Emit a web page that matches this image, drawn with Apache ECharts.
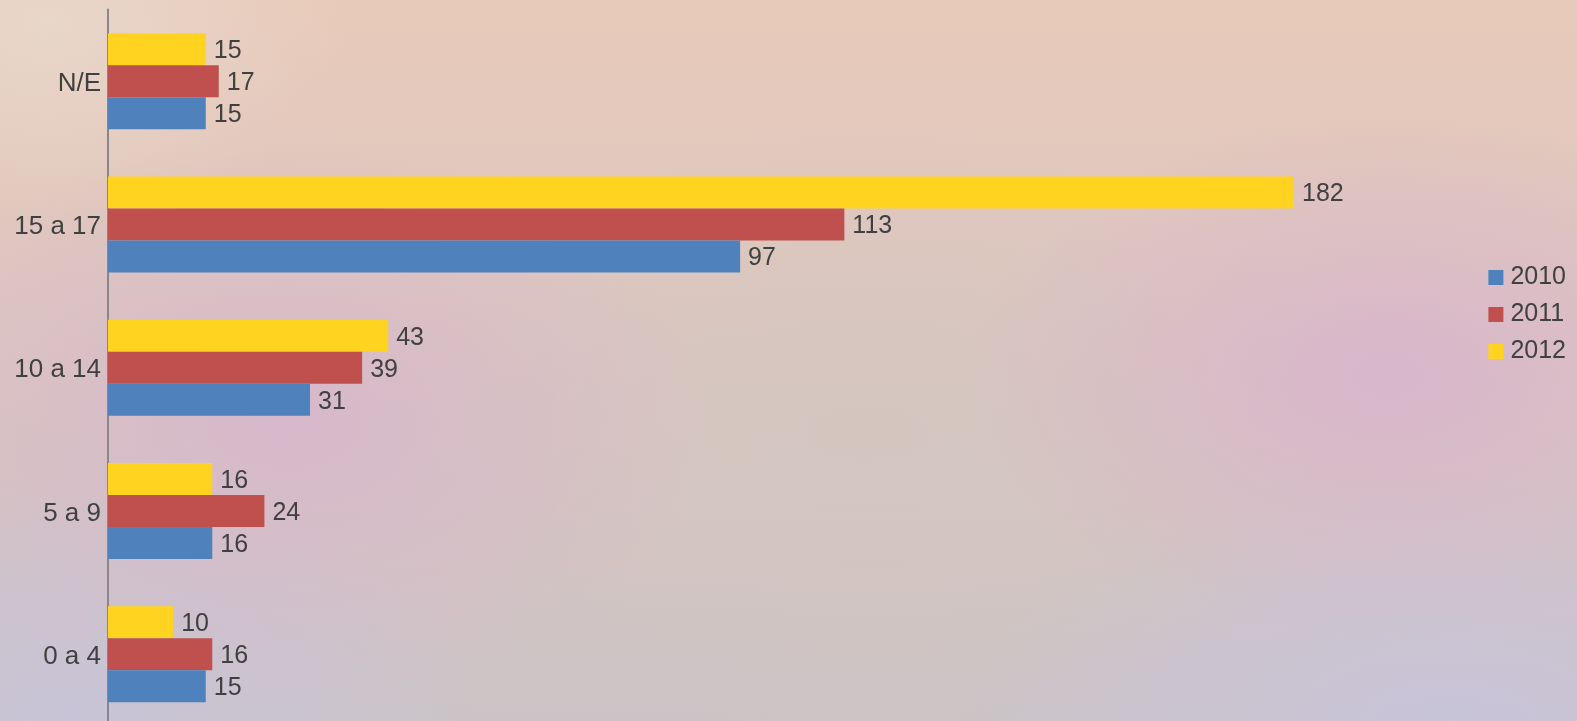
<!DOCTYPE html>
<html>
<head>
<meta charset="utf-8">
<script src="https://cdn.jsdelivr.net/npm/echarts@6/dist/echarts.min.js"></script>
<style>
html, body { margin: 0; padding: 0; }
body {
  width: 1577px; height: 721px; overflow: hidden;
  background:
    radial-gradient(ellipse 420px 260px at 88% 52%, rgba(216,180,204,0.9), rgba(216,180,204,0)),
    radial-gradient(ellipse 420px 280px at 18% 58%, rgba(214,182,204,0.85), rgba(214,182,204,0)),
    radial-gradient(ellipse 500px 300px at 55% 60%, rgba(210,198,190,0.8), rgba(210,198,190,0)),
    radial-gradient(ellipse 500px 250px at 92% 100%, rgba(200,196,218,0.95), rgba(200,196,218,0)),
    radial-gradient(ellipse 400px 250px at 5% 100%, rgba(200,196,216,0.95), rgba(200,196,216,0)),
    radial-gradient(ellipse 300px 200px at 3% 3%, rgba(232,216,204,0.9), rgba(232,216,204,0)),
    linear-gradient(180deg, #e8cab9 0%, #ddc6c0 45%, #cbc3c6 100%);
}
#chart { width: 1577px; height: 721px; }
</style>
</head>
<body>
<div id="chart"></div>
<script>
// categories, bottom to top
var categories = ['0 a 4', '5 a 9', '10 a 14', '15 a 17', 'N/E'];
var years = ['2010', '2011', '2012'];
var v2010 = [15, 16, 31, 97, 15];
var v2011 = [16, 24, 39, 113, 17];
var v2012 = [10, 16, 43, 182, 15];
var colors = ['#4f81bd', '#c0504d', '#ffd320'];

var chart = echarts.init(document.getElementById('chart'));

function makeSeries(name, data, color) {
  return {
    name: name,
    type: 'bar',
    data: data,
    barWidth: 32,
    barGap: '0%',
    itemStyle: { color: color },
    label: {
      show: true,
      position: 'right',
      distance: 8,
      offset: [0, 2],
      color: '#404040',
      fontSize: 25,
      fontFamily: 'Liberation Sans'
    }
  };
}

var option = {
  backgroundColor: 'transparent',
  animation: false,
  legend: {
    orient: 'vertical',
    right: 6,
    top: 260,
    itemWidth: 15,
    itemHeight: 15,
    itemGap: 12,
    icon: 'rect',
    data: years,
    textStyle: {
      color: '#404040', fontSize: 25, lineHeight: 25,
      fontFamily: 'Liberation Sans', padding: [0, 0, 0, 2]
    }
  },
  grid: {
    left: 108,
    top: 9.5,
    width: 1186 * 200 / 182,
    height: 716.5,
    outerBoundsMode: 'none'
  },
  xAxis: {
    type: 'value',
    min: 0,
    max: 200,
    show: false
  },
  yAxis: {
    type: 'category',
    data: categories,
    axisLine: { show: true, lineStyle: { color: '#888888', width: 2 } },
    axisTick: { show: false },
    axisLabel: {
      margin: 7,
      formatter: '{c|{value}}',
      rich: {
        c: {
          color: '#404040',
          fontSize: 26,
          fontFamily: 'Liberation Sans',
          padding: [5, 0, 0, 0]
        }
      }
    }
  },
  // first series sits on top of each band
  series: [
    makeSeries(years[2], v2012, colors[2]),
    makeSeries(years[1], v2011, colors[1]),
    makeSeries(years[0], v2010, colors[0])
  ]
};

chart.setOption(option);
</script>
</body>
</html>
